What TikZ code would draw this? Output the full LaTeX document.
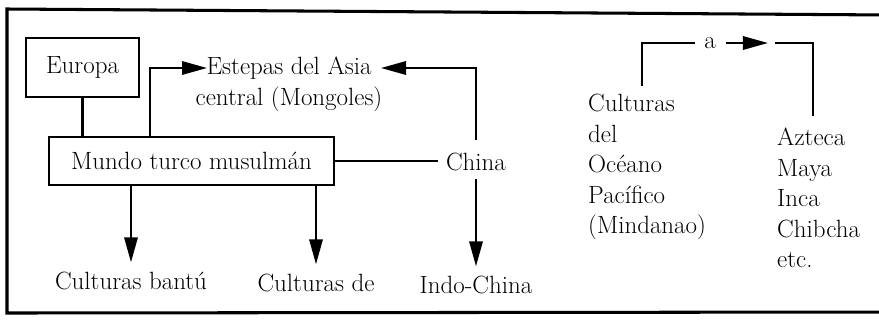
\documentclass[tikz,border=0pt]{standalone}
\usepackage{tikz}
\usetikzlibrary{arrows.meta}
\usetikzlibrary{positioning}

\begin{document}
\begin{tikzpicture}[x=0.03cm, y=-0.03cm,
    txt/.style={inner sep=0pt, font=\fontsize{21.3}{26}\selectfont},
    caja/.style={draw, line width=1.3pt, font=\fontsize{21.3}{26}\selectfont},
    linea/.style={line width=1.9pt},
    flecha/.style={line width=1.9pt, -{Triangle[length=0.75cm, width=0.4cm]}},
    marco/.style={line width=2.6pt}]
    \useasboundingbox (0,0) rectangle (879,322);
    \draw[marco] (890,15) -- (7,9) -- (7,313) -- (890,312);

    \node[caja, minimum width=3.39cm, minimum height=1.77cm] (europa) at (82.5,67.5) {Europa};
    \node[caja, minimum width=8.55cm, minimum height=1.44cm] (mundo) at (191.5,161) {Mundo turco musulmán};
    \node[txt, align=center, anchor=north] (estepas) at (289,57) {Estepas del Asia\\central (Mongoles)};
    \node[txt, anchor=base] (china) at (476,170) {China};
    \node[txt, anchor=base] (bantu) at (131,289) {Culturas bantú};
    \node[txt, anchor=base] (culde) at (316,291) {Culturas de};
    \node[txt, anchor=base] (indochina) at (476,293) {Indo-China};
    \node[txt, align=left, anchor=north west] (pacifico) at (588,94) {Culturas\\del\\Océano\\Pacífico\\(Mindanao)};
    \node[txt, align=left, anchor=north west] (azteca) at (777,128) {Azteca\\Maya\\Inca\\Chibcha\\etc.};
    \node[txt] (a) at (710,43) {a};

    \coordinate (estL) at (207,68);
    \coordinate (estR) at (381,68);

    \draw[linea] (europa.south) -- (europa.south |- mundo.north);
    \draw[flecha] ([xshift=3.06cm]mundo.north west) |- (estL);
    \draw[flecha, shorten <=0.37cm] (china.north) |- (estR);
    \draw[linea, shorten >=0.24cm] (mundo.east) -- (mundo.east -| china.west);
    \draw[flecha, shorten <=0.24cm, shorten >=0.27cm] (china.south) -- (indochina.north);
    \draw[flecha, shorten >=0.27cm] (mundo.south -| bantu.north) -- (bantu.north);
    \draw[flecha, shorten >=0.27cm] (mundo.south -| culde.north) -- (culde.north);

    \draw[linea] ([xshift=1.62cm, yshift=0.24cm]pacifico.north west) |- ([xshift=-0.27cm]a.west);
    \draw[flecha] ([xshift=0.3cm]a.east) -- ([xshift=1.56cm]a.east);
    \draw[linea] ([xshift=1.77cm]a.east) -| ([xshift=1.08cm, yshift=0.36cm]azteca.north west);
\end{tikzpicture}
\end{document}
